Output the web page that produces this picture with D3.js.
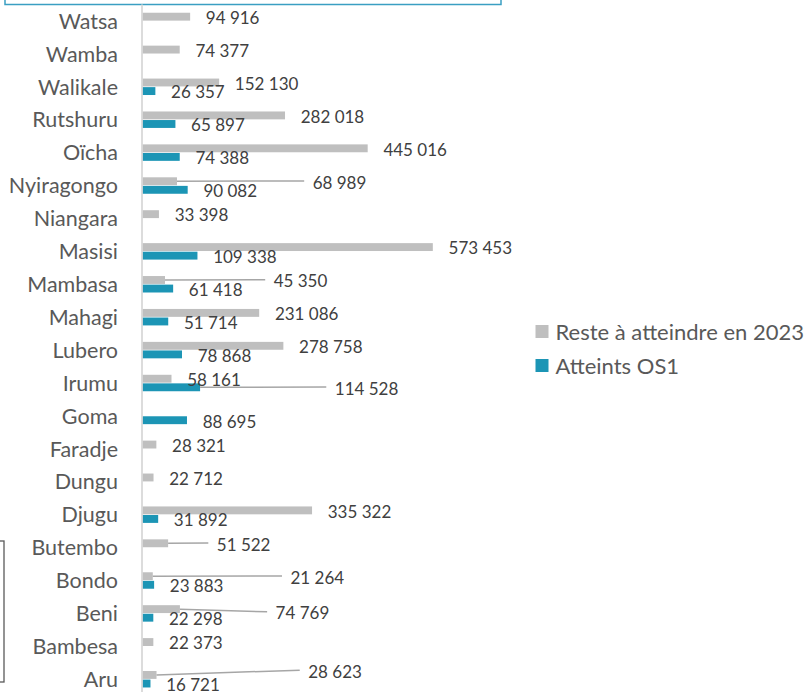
<!DOCTYPE html>
<html>
<head>
<meta charset="utf-8">
<script src="https://cdn.jsdelivr.net/npm/d3@7"></script>
<style>
  body { margin: 0; background: #fff; }
  svg { display: block; font-family: Lato, "Open Sans", sans-serif; }
</style>
</head>
<body>
<div id="chart"></div>
<script>

// territoires, du bas vers le haut comme dans Excel
var categories = ["Aru", "Bambesa", "Beni", "Bondo", "Butembo", "Djugu", "Dungu", "Faradje", "Goma", "Irumu",
                  "Lubero", "Mahagi", "Mambasa", "Masisi", "Niangara", "Nyiragongo", "Oïcha", "Rutshuru",
                  "Walikale", "Wamba", "Watsa"];

var reste = [28623, 22373, 74769, 21264, 51522, 335322, 22712, 28321, null, 58161,
             278758, 231086, 45350, 573453, 33398, 68989, 445016, 282018,
             152130, 74377, 94916];

var atteints = [16721, null, 22298, 23883, null, 31892, null, null, 88695, 114528,
                78868, 51714, 61418, 109338, null, 90082, 74388, 65897,
                26357, null, null];

var seriesNames = ["Reste à atteindre en 2023", "Atteints OS1"];

// etiquettes deplacees a la main (avec trait de rappel)
var labelNudges = [
  {serie: 0, cat: "Nyiragongo", dx: 120, dy: 0},
  {serie: 0, cat: "Mambasa", dx: 93, dy: 0},
  {serie: 1, cat: "Irumu", dx: 119, dy: 0},
  {serie: 0, cat: "Butembo", dx: 33, dy: 0},
  {serie: 0, cat: "Bondo", dx: 122, dy: 0},
  {serie: 0, cat: "Beni", dx: 80, dy: 3},
  {serie: 0, cat: "Aru", dx: 136, dy: -4.5}
];

var colors = ["#bfbfbf", "#1c95b5"];

var width = 807, height = 692;

var svg = d3.select("#chart").append("svg")
    .attr("width", width)
    .attr("height", height);

var x = d3.scaleLinear()
    .domain([0, 700000])
    .range([142, 497]);

var y = d3.scaleBand()
    .domain(categories.slice().reverse())
    .range([4.5, 695.7])
    .paddingInner(0.5)
    .paddingOuter(0.25);

var ySub = d3.scaleBand()
    .domain([0, 1])
    .range([0, y.bandwidth()])
    .paddingInner(0.08);

function fmt(v) {
  return d3.format(",")(v).replace(/,/g, " ");
}

function nudgeFor(s, cat) {
  var n = labelNudges.filter(function(d) { return d.serie === s && d.cat === cat; });
  return n.length ? n[0] : null;
}

// cadres coupes sur les bords de la capture
svg.append("rect")
    .attr("x", 5).attr("y", -20)
    .attr("width", 496).attr("height", 24.5)
    .attr("fill", "none")
    .attr("stroke", "#3a9fc2")
    .attr("stroke-width", 1.5);

svg.append("rect")
    .attr("x", -10).attr("y", 541)
    .attr("width", 14).attr("height", 141)
    .attr("fill", "none")
    .attr("stroke", "#595959")
    .attr("stroke-width", 1.3);

// construit les donnees des barres
var bars = [];
[reste, atteints].forEach(function(vals, s) {
  vals.forEach(function(v, i) {
    if (v === null) return;
    bars.push({serie: s, cat: categories[i], value: v});
  });
});

svg.append("g")
  .selectAll("rect")
  .data(bars)
  .enter()
  .append("rect")
    .attr("x", x(0))
    .attr("y", function(d) { return y(d.cat) + ySub(d.serie); })
    .attr("width", function(d) { return x(d.value) - x(0); })
    .attr("height", ySub.bandwidth())
    .attr("fill", function(d) { return colors[d.serie]; });

// axe vertical
svg.append("line")
    .attr("x1", x(0)).attr("x2", x(0))
    .attr("y1", y.range()[0]).attr("y2", y.range()[1])
    .attr("stroke", "#d9d9d9")
    .attr("stroke-width", 1.8);

// noms des territoires
svg.append("g")
  .selectAll("text")
  .data(categories)
  .enter()
  .append("text")
    .attr("x", x(0) - 24)
    .attr("y", function(d) { return y(d) + y.bandwidth() / 2; })
    .attr("dy", "0.36em")
    .attr("text-anchor", "end")
    .attr("font-size", 21.5)
    .attr("fill", "#595959")
    .text(function(d) { return d; });

// etiquettes de valeurs
var labels = bars.map(function(d) {
  var cy = y(d.cat) + ySub(d.serie) + ySub.bandwidth() / 2;
  var lx = x(d.value) + 15.7, ly = cy + 1.2;
  var n = nudgeFor(d.serie, d.cat);
  if (n) { lx += n.dx; ly += n.dy; }
  return {d: d, barX: x(d.value), barY: cy, lx: lx, ly: ly, moved: !!n};
});

svg.append("g")
  .selectAll("line")
  .data(labels.filter(function(l) { return l.moved; }))
  .enter()
  .append("line")
    .attr("x1", function(l) { return l.barX; })
    .attr("y1", function(l) { return l.barY; })
    .attr("x2", function(l) { return l.lx - 8.5; })
    .attr("y2", function(l) { return l.ly - 1.5; })
    .attr("stroke", "#a6a6a6")
    .attr("stroke-width", 1.5);

svg.append("g")
  .selectAll("text")
  .data(labels)
  .enter()
  .append("text")
    .attr("x", function(l) { return l.lx; })
    .attr("y", function(l) { return l.ly; })
    .attr("dy", "0.36em")
    .attr("font-size", 17)
    .attr("fill", "#404040")
    .text(function(l) { return fmt(l.d.value); });

// legende
var legend = svg.append("g")
  .selectAll("g")
  .data(seriesNames)
  .enter()
  .append("g")
    .attr("transform", function(d, i) { return "translate(535.5," + (325 + i * 34) + ")"; });

legend.append("rect")
    .attr("width", 13).attr("height", 13)
    .attr("fill", function(d, i) { return colors[i]; });

legend.append("text")
    .attr("x", 20)
    .attr("y", 6.8)
    .attr("dy", "0.36em")
    .attr("font-size", 22)
    .attr("fill", "#595959")
    .text(function(d) { return d; });

</script>
</body>
</html>
